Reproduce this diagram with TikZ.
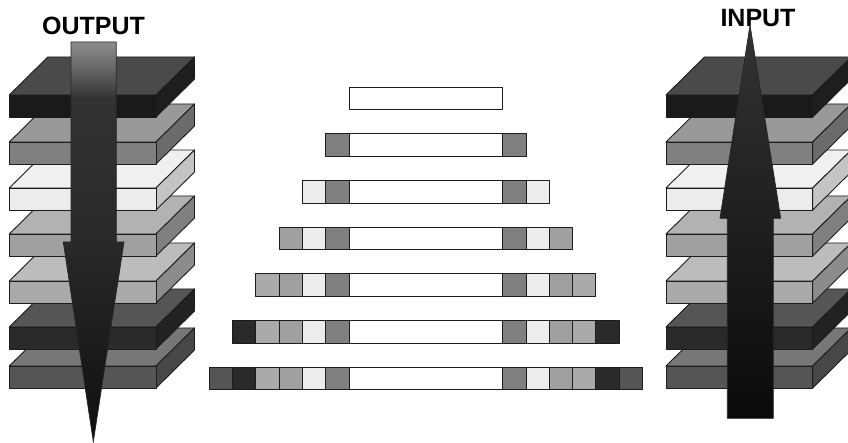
\documentclass[tikz,border=0pt]{standalone}
\usepackage{fontspec}
\setmainfont{Liberation Sans}
\usetikzlibrary{calc}

% layer colours: front face, top face, side face
\definecolor{Front1}{HTML}{1A1A1A}\definecolor{Top1}{HTML}{4A4A4A}\definecolor{Side1}{HTML}{1E1E1E}
\definecolor{Front2}{HTML}{808080}\definecolor{Top2}{HTML}{999999}\definecolor{Side2}{HTML}{6B6B6B}
\definecolor{Front3}{HTML}{ECECEC}\definecolor{Top3}{HTML}{F0F0F0}\definecolor{Side3}{HTML}{C4C4C4}
\definecolor{Front4}{HTML}{A0A0A0}\definecolor{Top4}{HTML}{B2B2B2}\definecolor{Side4}{HTML}{808080}
\definecolor{Front5}{HTML}{AAAAAA}\definecolor{Top5}{HTML}{BCBCBC}\definecolor{Side5}{HTML}{8C8C8C}
\definecolor{Front6}{HTML}{2A2A2A}\definecolor{Top6}{HTML}{555555}\definecolor{Side6}{HTML}{222222}
\definecolor{Front7}{HTML}{555555}\definecolor{Top7}{HTML}{777777}\definecolor{Side7}{HTML}{474747}
\definecolor{Outline}{HTML}{1C1C1C}

\pgfdeclareverticalshading{outshade}{100bp}{%
  color(0bp)=(black!94); color(25bp)=(black!94); color(50bp)=(black!84);
  color(68bp)=(black!80); color(72bp)=(black!58); color(75bp)=(black!45);
  color(100bp)=(black!45)}

\tikzset{
  edge/.style={draw=Outline, line width=0.9pt, line join=round},
  label text/.style={font=\bfseries\fontsize{25}{30}\selectfont, inner sep=0pt},
  big arrow/.style={draw=black!85, line width=0.7pt, line join=miter}
}

% one slab of a stack: x of front-left, y of front-top, layer number
\newcommand{\slab}[3]{%
  \filldraw[edge, fill=Top#3] (#1,#2) -- ++(38.5,-38) -- ++(146.7,0) -- ++(-38.5,38) -- cycle;
  \filldraw[edge, fill=Side#3] (#1+146.7,#2) -- ++(38.5,-38) -- ++(0,22) -- ++(-38.5,38) -- cycle;
  \filldraw[edge, fill=Front#3] (#1,#2) rectangle ++(146.7,22);
}

\begin{document}
\begin{tikzpicture}[x=1pt,y=-1pt]
  \useasboundingbox (0,0) rectangle (848,443);

  % left stack, bottom slab first
  \foreach \n/\y in {7/366,6/327,5/281,4/234,3/188,2/142,1/95}
    \slab{9.3}{\y}{\n};

  % right stack
  \foreach \n/\y in {7/366,6/327,5/281,4/234,3/188,2/142,1/95}
    \slab{666}{\y}{\n};

  % middle: white core, squares added on both sides row by row
  \foreach \k in {0,...,6} {
    \pgfmathsetmacro{\yy}{87.3+46.65*\k}
    \filldraw[edge, fill=white] (349,\yy) rectangle (502.7,\yy+22.5);
    \ifnum\k>0
      \foreach \j in {1,...,\k} {
        \pgfmathtruncatemacro{\c}{\j+1}
        \filldraw[edge, fill=Front\c] (349-23.3*\j,\yy) rectangle ++(23.3,22.5);
        \filldraw[edge, fill=Front\c] (502.7+23.3*\j-23.3,\yy) rectangle ++(23.3,22.5);
      }
    \fi
  }

  % labels
  \node[label text] (outlbl) at (93.5,26) {OUTPUT};
  \node[label text] (inlbl) at (758,18) {INPUT};

  % down arrow through the left stack
  \shade[big arrow, shading=outshade]
    (71,42) -- (116.3,42) -- (116.3,242) -- (124,242) -- (93.3,441.7)
    -- (63.3,242) -- (71,242) -- cycle;

  % up arrow through the right stack
  \shade[big arrow, top color=black!80, bottom color=black!96]
    (727.3,418.3) -- (773.3,418.3) -- (773.3,218.3) -- (780.7,218.3)
    -- (750,25) -- (720,218.3) -- (727.3,218.3) -- cycle;
\end{tikzpicture}
\end{document}
